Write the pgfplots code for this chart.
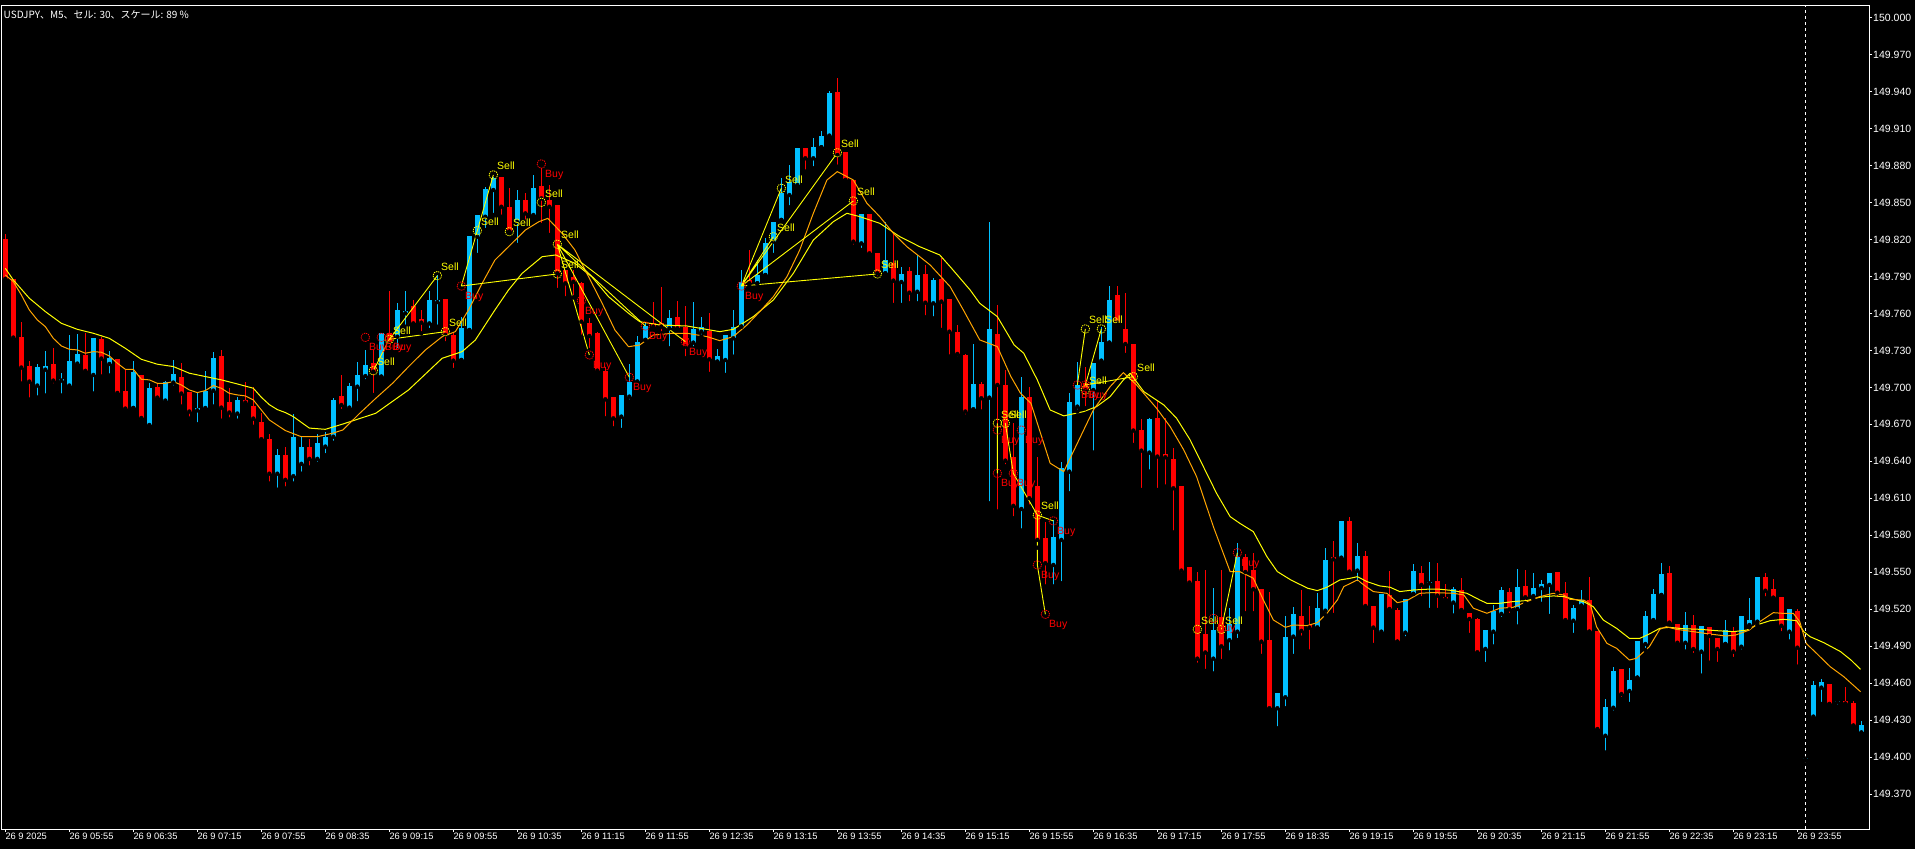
\documentclass[border=0pt]{standalone}
\usepackage{fontspec}
\usepackage{pgfplots}
\usepackage{pgfplotstable}
\pgfplotsset{compat=1.18}
\setmainfont{Liberation Sans}
\newfontfamily\cjk{Noto Sans CJK JP}
\definecolor{bull}{RGB}{0,191,255}
\definecolor{bear}{RGB}{255,0,0}
\definecolor{maslow}{RGB}{255,255,0}
\definecolor{mafast}{RGB}{255,165,0}
\definecolor{sellc}{RGB}{255,255,0}
\definecolor{buyc}{RGB}{255,0,0}

\pgfplotstableread{
i o h l c
4 149.7015 149.7190 149.6917 149.7166
5 149.7144 149.7296 149.6934 149.7174
7 149.7055 149.7117 149.6934 149.7069
8 149.7015 149.7425 149.7006 149.7215
9 149.7193 149.7434 149.7182 149.7271
11 149.7101 149.7401 149.6950 149.7401
13 149.7190 149.7296 149.7096 149.7239
16 149.6833 149.7215 149.6833 149.7128
18 149.6695 149.7036 149.6670 149.6996
20 149.6893 149.7055 149.6877 149.7047
21 149.7039 149.7223 149.6998 149.7109
24 149.6814 149.6966 149.6700 149.6833
25 149.6833 149.7134 149.6804 149.6974
26 149.6974 149.7288 149.6844 149.7242
29 149.6788 149.6925 149.6730 149.6898
34 149.6300 149.6500 149.6170 149.6450
36 149.6280 149.6785 149.6220 149.6600
37 149.6380 149.6600 149.6300 149.6520
39 149.6420 149.6620 149.6380 149.6550
40 149.6520 149.6640 149.6450 149.6600
41 149.6600 149.6911 149.6550 149.6898
43 149.6836 149.7033 149.6809 149.7011
44 149.7006 149.7206 149.6871 149.7101
45 149.7092 149.7303 149.7050 149.7182
47 149.7087 149.7444 149.7087 149.7444
49 149.7411 149.7687 149.7300 149.7628
50 149.7601 149.7782 149.7492 149.7620
53 149.7519 149.7782 149.7465 149.7709
54 149.7692 149.7911 149.7492 149.7709
57 149.7222 149.7574 149.7222 149.7479
58 149.7465 149.8228 149.7465 149.8228
59 149.8222 149.8398 149.8074 149.8398
60 149.8384 149.8628 149.8276 149.8606
61 149.8601 149.8709 149.8398 149.8695
64 149.8344 149.8601 149.8155 149.8519
66 149.8398 149.8722 149.8384 149.8614
77 149.6763 149.6938 149.6655 149.6938
78 149.6925 149.7190 149.6885 149.7047
79 149.7047 149.7417 149.7047 149.7371
80 149.7385 149.7533 149.7385 149.7498
83 149.7479 149.7628 149.7317 149.7560
86 149.7363 149.7690 149.7317 149.7471
87 149.7452 149.7568 149.7412 149.7487
89 149.7209 149.7309 149.7209 149.7255
90 149.7222 149.7425 149.7101 149.7425
91 149.7398 149.7628 149.7249 149.7487
92 149.7493 149.7952 149.7493 149.7858
94 149.7844 149.8033 149.7844 149.7911
95 149.7911 149.8209 149.7911 149.8168
96 149.8182 149.8344 149.8074 149.8344
97 149.8358 149.8695 149.8358 149.8574
98 149.8560 149.8804 149.8460 149.8668
99 149.8641 149.8939 149.8614 149.8939
101 149.8858 149.9020 149.8777 149.8947
102 149.8947 149.9079 149.8947 149.9039
103 149.9042 149.9406 149.9033 149.9385
107 149.8168 149.8406 149.8114 149.8406
110 149.7925 149.8344 149.7925 149.8033
112 149.7855 149.7979 149.7668 149.7920
114 149.7776 149.8074 149.7682 149.7911
116 149.7682 149.7885 149.7560 149.7871
121 149.6823 149.7352 149.6817 149.7028
123 149.6917 149.8339 149.6060 149.7474
127 149.6014 149.7087 149.5839 149.6925
131 149.5560 149.5925 149.5385 149.5790
132 149.5763 149.6398 149.5412 149.6344
133 149.6317 149.6952 149.6141 149.6885
134 149.6844 149.7209 149.6804 149.7020
136 149.6979 149.7201 149.6471 149.7201
137 149.7217 149.7493 149.7210 149.7371
138 149.7363 149.7823 149.7363 149.7709
143 149.6471 149.6750 149.6317 149.6741
151 149.4800 149.5370 149.4680 149.5030
153 149.4950 149.5210 149.4850 149.5080
154 149.5019 149.5736 149.4950 149.5628
159 149.4398 149.4525 149.4235 149.4525
160 149.4487 149.5146 149.4398 149.4979
161 149.4979 149.5217 149.4822 149.5163
164 149.5054 149.5336 149.5046 149.5209
165 149.5189 149.5695 149.5154 149.5600
167 149.5619 149.5917 149.5595 149.5917
169 149.5514 149.5741 149.5411 149.5633
172 149.5019 149.5325 149.4992 149.5325
175 149.5011 149.5281 149.4965 149.5281
176 149.5325 149.5568 149.5325 149.5511
178 149.5411 149.5584 149.5195 149.5422
181 149.5255 149.5379 149.5149 149.5363
185 149.4879 149.5033 149.4757 149.5033
186 149.5019 149.5233 149.4898 149.5187
187 149.5163 149.5379 149.5122 149.5357
189 149.5203 149.5525 149.5060 149.5379
191 149.5308 149.5492 149.5282 149.5371
192 149.5373 149.5438 149.5244 149.5406
193 149.5398 149.5492 149.5146 149.5492
196 149.5108 149.5235 149.4992 149.5211
197 149.5230 149.5357 149.5230 149.5275
200 149.4175 149.4473 149.4038 149.4408
201 149.4402 149.4730 149.4362 149.4700
203 149.4538 149.4724 149.4432 149.4627
204 149.4646 149.4943 149.4646 149.4943
205 149.4919 149.5186 149.4870 149.5146
206 149.5113 149.5365 149.5100 149.5324
207 149.5316 149.5573 149.5316 149.5486
210 149.4929 149.5178 149.4857 149.5073
212 149.4857 149.5065 149.4662 149.5065
215 149.4919 149.5113 149.4919 149.5032
217 149.4897 149.5146 149.4857 149.5146
218 149.5073 149.5294 149.5054 149.5113
219 149.5100 149.5459 149.5073 149.5459
223 149.5019 149.5200 149.4938 149.5200
225 149.3989 149.3995 149.3973 149.3995
226 149.4330 149.4619 149.4321 149.4586
227 149.4565 149.4635 149.4432 149.4611
229 149.4450 149.4459 149.4411 149.4459
232 149.4202 149.4292 149.4189 149.4262
}\bulls

\pgfplotstableread{
i o h l c
0 149.8204 149.8244 149.7850 149.7880
1 149.7880 149.7880 149.7371 149.7404
2 149.7409 149.7531 149.7031 149.7161
3 149.7174 149.7215 149.6901 149.7047
6 149.7190 149.7320 149.7015 149.7055
10 149.7266 149.7439 149.7125 149.7134
12 149.7393 149.7407 149.7088 149.7234
14 149.7228 149.7228 149.6942 149.6955
15 149.6969 149.7144 149.6820 149.6828
17 149.7101 149.7101 149.6720 149.6752
19 149.7004 149.7036 149.6885 149.6917
22 149.7085 149.7198 149.6844 149.6950
23 149.6966 149.6966 149.6747 149.6804
27 149.7255 149.7304 149.6730 149.6836
28 149.6882 149.6998 149.6740 149.6796
30 149.6898 149.7044 149.6852 149.6877
31 149.6850 149.7004 149.6680 149.6747
32 149.6720 149.6796 149.6550 149.6580
33 149.6580 149.6620 149.6220 149.6300
35 149.6450 149.6520 149.6180 149.6250
38 149.6520 149.6580 149.6350 149.6420
42 149.6930 149.7101 149.6809 149.6857
46 149.7195 149.7303 149.6938 149.7128
48 149.7438 149.7782 149.7303 149.7357
51 149.7663 149.7709 149.7492 149.7519
52 149.7552 149.7628 149.7438 149.7525
55 149.7717 149.7717 149.7357 149.7425
56 149.7425 149.7452 149.7141 149.7217
62 149.8709 149.8709 149.8384 149.8465
63 149.8465 149.8614 149.8263 149.8263
65 149.8519 149.8574 149.8344 149.8411
67 149.8633 149.8776 149.8317 149.8533
68 149.8519 149.8641 149.8236 149.8465
69 149.8479 149.8479 149.7790 149.7925
70 149.7952 149.7952 149.7722 149.7844
71 149.7898 149.7950 149.7730 149.7857
72 149.7844 149.7857 149.7411 149.7533
73 149.7525 149.7560 149.7303 149.7417
74 149.7438 149.7452 149.7110 149.7136
75 149.7136 149.7168 149.6749 149.6903
76 149.6919 149.6919 149.6668 149.6749
81 149.7520 149.7695 149.7466 149.7493
82 149.7520 149.7812 149.7439 149.7493
84 149.7568 149.7703 149.7466 149.7479
85 149.7493 149.7660 149.7236 149.7331
88 149.7457 149.7601 149.7109 149.7228
93 149.7871 149.8114 149.7831 149.7844
100 149.8939 149.8939 149.8750 149.8858
104 149.9395 149.9506 149.8790 149.8885
105 149.8912 149.8912 149.8682 149.8682
106 149.8682 149.8682 149.8141 149.8182
108 149.8406 149.8406 149.8060 149.8087
109 149.8093 149.8093 149.7885 149.7925
111 149.8006 149.8250 149.7668 149.7866
113 149.7944 149.7979 149.7682 149.7768
115 149.7920 149.7993 149.7568 149.7687
117 149.7877 149.8047 149.7466 149.7696
118 149.7715 149.7715 149.7250 149.7452
119 149.7452 149.7506 149.7236 149.7271
120 149.7263 149.7271 149.6763 149.6804
122 149.7028 149.7047 149.6804 149.6912
124 149.7433 149.7669 149.5993 149.7020
125 149.7020 149.7142 149.6360 149.6406
126 149.6439 149.6709 149.5939 149.6039
128 149.6925 149.7006 149.6033 149.6101
129 149.6201 149.6439 149.5700 149.5763
130 149.5777 149.5912 149.5385 149.5574
135 149.7033 149.7169 149.6831 149.6979
139 149.7750 149.7823 149.7525 149.7525
140 149.7474 149.7763 149.7263 149.7352
141 149.7352 149.7352 149.6533 149.6650
142 149.6655 149.6741 149.6168 149.6487
144 149.6750 149.6898 149.6168 149.6439
145 149.6460 149.6750 149.6195 149.6433
146 149.6417 149.6506 149.5823 149.6182
147 149.6201 149.6201 149.5479 149.5514
148 149.5541 149.5541 149.5398 149.5417
149 149.5433 149.5500 149.4750 149.4800
150 149.5000 149.5520 149.4700 149.4850
152 149.5136 149.5520 149.4780 149.4900
155 149.5625 149.5650 149.5168 149.5503
156 149.5519 149.5655 149.5168 149.5363
157 149.5363 149.5363 149.4822 149.4938
158 149.4952 149.5344 149.4390 149.4398
162 149.5146 149.5357 149.4970 149.5025
163 149.5071 149.5227 149.4857 149.5052
166 149.5622 149.5755 149.5154 149.5606
168 149.5917 149.5952 149.5498 149.5506
170 149.5633 149.5673 149.5209 149.5227
171 149.5227 149.5227 149.4911 149.5052
173 149.5317 149.5514 149.5173 149.5203
174 149.5195 149.5209 149.4938 149.4938
177 149.5492 149.5552 149.5290 149.5398
179 149.5430 149.5579 149.5195 149.5311
180 149.5303 149.5403 149.5255 149.5284
182 149.5357 149.5452 149.5163 149.5195
183 149.5168 149.5168 149.4992 149.5122
184 149.5122 149.5127 149.4844 149.4852
188 149.5341 149.5373 149.5154 149.5200
190 149.5390 149.5519 149.5249 149.5298
194 149.5503 149.5503 149.5281 149.5335
195 149.5335 149.5422 149.5100 149.5113
198 149.5275 149.5465 149.5019 149.5019
199 149.5024 149.5024 149.4216 149.4229
202 149.4716 149.4716 149.4473 149.4513
208 149.5492 149.5551 149.5081 149.5092
209 149.5081 149.5081 149.4903 149.4929
211 149.5073 149.5154 149.4830 149.4878
213 149.5054 149.5054 149.4767 149.4984
214 149.4970 149.4970 149.4757 149.4878
216 149.5024 149.5054 149.4797 149.4857
220 149.5459 149.5497 149.5289 149.5351
221 149.5362 149.5443 149.5294 149.5294
222 149.5297 149.5297 149.5005 149.5067
224 149.5186 149.5200 149.4735 149.4889
228 149.4594 149.4594 149.4432 149.4432
230 149.4457 149.4573 149.4435 149.4435
231 149.4440 149.4457 149.4257 149.4257
}\bears

\pgfplotstableread{
i p
46 149.7135
48 149.7390
54 149.7906
55 149.7452
59 149.8271
61 149.8723
63 149.8263
67 149.8501
69 149.8161
69 149.7920
96 149.8222
97 149.8615
104 149.8903
106 149.8512
109 149.7920
124 149.6709
125 149.6709
129 149.5965
135 149.7474
137 149.7474
135 149.6979
141 149.7087
149 149.5038
152 149.5038
}\sells

\pgfplotstableread{
i p
45 149.7406
47 149.7406
48 149.7406
57 149.7822
67 149.8812
72 149.7703
73 149.7263
78 149.7082
80 149.7498
85 149.7371
92 149.7822
124 149.6654
127 149.6654
124 149.6303
126 149.6303
131 149.5917
129 149.5560
130 149.5160
134 149.7019
135 149.7019
151 149.5127
154 149.5659
}\buys

\begin{document}
\begin{tikzpicture}
\useasboundingbox (0,0) rectangle (1915bp,849bp);
\fill[black] (0,0) rectangle (1915bp,849bp);
\begin{axis}[
  at={(1bp,20bp)}, anchor=south west,
  width=1868bp, height=823bp, scale only axis,
  xmin=-0.54, xmax=232.96,
  ymin=149.34185, ymax=150.00933,
  axis line style={white, line width=1bp},
  tick align=outside,
  major tick length=3bp,
  major tick style={white, line width=1bp},
  xtick pos=left, ytick pos=right, yticklabel pos=right,
  xtick={0,8,...,224},
  xticklabels={26 9 2025, 26 9 05:55, 26 9 06:35, 26 9 07:15, 26 9 07:55, 26 9 08:35, 26 9 09:15, 26 9 09:55, 26 9 10:35, 26 9 11:15, 26 9 11:55, 26 9 12:35, 26 9 13:15, 26 9 13:55, 26 9 14:35, 26 9 15:15, 26 9 15:55, 26 9 16:35, 26 9 17:15, 26 9 17:55, 26 9 18:35, 26 9 19:15, 26 9 19:55, 26 9 20:35, 26 9 21:15, 26 9 21:55, 26 9 22:35, 26 9 23:15, 26 9 23:55},
  ytick={149.37,149.40,149.43,149.46,149.49,149.52,149.55,149.58,149.61,149.64,149.67,149.70,149.73,149.76,149.79,149.82,149.85,149.88,149.91,149.94,149.97,150.00},
  yticklabels={149.370,149.400,149.430,149.460,149.490,149.520,149.550,149.580,149.610,149.640,149.670,149.700,149.730,149.760,149.790,149.820,149.850,149.880,149.910,149.940,149.970,150.000},
  xticklabel style={text=white, font=\fontsize{9.3bp}{11bp}\selectfont, anchor=north west, inner sep=0pt, yshift=-1bp},
  yticklabel style={text=white, font=\fontsize{10.5bp}{12bp}\selectfont, anchor=west, inner sep=0pt, xshift=1bp},
  every axis plot/.append style={line join=round},
]
% wicks
\addplot[only marks, mark=none, forget plot, error bars/.cd, y dir=plus, y explicit, error mark=none, error bar style={draw=bull, line width=1bp}]
  table[x=i, y=l, y error plus expr=\thisrow{h}-\thisrow{l}] {\bulls};
\addplot[only marks, mark=none, forget plot, error bars/.cd, y dir=plus, y explicit, error mark=none, error bar style={draw=bear, line width=1bp}]
  table[x=i, y=l, y error plus expr=\thisrow{h}-\thisrow{l}] {\bears};
% bodies
\addplot[only marks, mark=none, forget plot, error bars/.cd, y dir=plus, y explicit, error mark=none, error bar style={draw=bull, line width=5bp}]
  table[x=i, y=o, y error plus expr=\thisrow{c}-\thisrow{o}] {\bulls};
\addplot[only marks, mark=none, forget plot, error bars/.cd, y dir=plus, y explicit, error mark=none, error bar style={draw=bear, line width=5bp}]
  table[x=i, y=c, y error plus expr=\thisrow{o}-\thisrow{c}] {\bears};
% slow MA
\addplot[maslow, line width=1bp, mark=none] coordinates {
(0,149.7966)(1,149.7871)(3,149.7723)(5,149.7615)(7,149.7520)(9,149.7471)(11,149.7439)(13,149.7398)(15,149.7317)(17,149.7228)(19,149.7188)(21,149.7169)(23,149.7115)(25,149.7088)(27,149.7061)(29,149.7028)(31,149.6993)(32,149.6920)(33,149.6860)(34,149.6820)(35,149.6796)(36,149.6763)(38,149.6670)(40,149.6660)(42.2,149.6703)(46.3,149.6790)(50.4,149.6979)(54.6,149.7236)(57.1,149.7290)(58.75,149.7384)(61.2,149.7628)(62.9,149.7790)(64.6,149.7925)(67.1,149.8060)(68.8,149.8074)(71.2,149.8006)(73.3,149.7898)(75.4,149.7736)(77.9,149.7601)(79.3,149.7533)(81.8,149.7506)(85.2,149.7498)(89.3,149.7452)(91.0,149.7471)(93.5,149.7574)(96,149.7709)(98.5,149.7925)(101,149.8195)(103.5,149.8344)(105.2,149.8412)(106.8,149.8385)(109.3,149.8331)(111.8,149.8223)(114.3,149.8141)(116.8,149.8074)(118.1,149.7979)(120.6,149.7790)(121.8,149.7682)(124,149.7574)(126.1,149.7344)(127.3,149.7277)(129,149.7060)(130.6,149.6817)(132.3,149.6769)(134.8,149.6804)(136.4,149.6844)(138.1,149.6925)(139.75,149.7060)(140.6,149.7115)(142.3,149.6966)(144.8,149.6858)(146.4,149.6750)(148.1,149.6574)(149.75,149.6358)(151.4,149.6141)(153.1,149.5952)(154.3,149.5898)(156,149.5830)(157.7,149.5627)(159,149.5506)(160.7,149.5438)(162.8,149.5371)(164,149.5352)(165.2,149.5379)(166.8,149.5438)(168.1,149.5452)(169,149.5465)(170.2,149.5425)(171.8,149.5390)(173.1,149.5379)(174.3,149.5344)(176,149.5357)(177.7,149.5363)(179.3,149.5363)(181,149.5352)(182.7,149.5330)(184.3,149.5276)(185.2,149.5249)(186.8,149.5249)(188.5,149.5263)(190.2,149.5271)(191.8,149.5298)(193.5,149.5309)(194.8,149.5303)(197.3,149.5262)(198.5,149.5221)(199.75,149.5113)(201.4,149.5046)(203,149.4965)(204.3,149.4965)(205.5,149.5000)(206.8,149.5046)(208,149.5054)(209.7,149.5043)(211.8,149.5038)(213.9,149.5027)(216,149.5019)(217.7,149.5032)(218.9,149.5073)(220.6,149.5108)(222.3,149.5119)(223.9,149.5108)(224.8,149.5019)(225.6,149.4978)(227.3,149.4930)(229.4,149.4857)(230.7,149.4789)(231.9,149.4713)
};
% fast MA
\addplot[mafast, line width=1bp, mark=none] coordinates {
(0,149.7912)(1,149.7858)(2,149.7750)(3,149.7628)(4,149.7547)(5,149.7493)(6,149.7398)(7,149.7336)(8,149.7309)(9,149.7304)(10,149.7277)(11,149.7290)(12,149.7285)(13,149.7255)(14,149.7196)(15,149.7147)(16,149.7147)(17,149.7066)(18,149.7061)(19,149.7033)(20,149.7033)(21,149.7047)(22,149.7020)(23,149.6979)(24,149.6958)(25,149.6974)(26,149.7015)(27,149.6993)(28,149.6952)(29,149.6939)(30,149.6931)(31,149.6898)(32,149.6817)(33,149.6736)(35,149.6650)(37,149.6600)(39,149.6600)(41,149.6630)(42.2,149.6655)(44.3,149.6790)(46.3,149.6911)(48.4,149.7033)(50.4,149.7168)(52.5,149.7303)(54.6,149.7411)(56.25,149.7452)(57.9,149.7628)(59.6,149.7844)(61.2,149.8033)(62.9,149.8141)(65,149.8276)(66.7,149.8344)(67.8,149.8371)(69.6,149.8249)(71.2,149.8114)(72.9,149.7898)(74.6,149.7682)(76.2,149.7465)(77.9,149.7330)(79.3,149.7344)(81,149.7425)(83.5,149.7439)(85.2,149.7439)(87.7,149.7412)(89.3,149.7379)(91,149.7412)(92.7,149.7506)(94.3,149.7614)(96,149.7736)(97.7,149.7898)(99.3,149.8114)(101,149.8412)(102.7,149.8682)(104,149.8750)(106,149.8682)(107.7,149.8493)(109.3,149.8385)(111,149.8250)(112.7,149.8141)(114.3,149.8060)(115.6,149.7993)(118.1,149.7817)(119.75,149.7628)(121.8,149.7385)(124,149.7331)(125.7,149.7087)(126.9,149.6952)(128.2,149.6871)(129.4,149.6628)(130.6,149.6385)(132.3,149.6317)(134,149.6547)(136,149.6817)(138.1,149.7006)(139.75,149.7120)(141.4,149.7020)(143.9,149.6831)(145.6,149.6682)(147.3,149.6493)(148.9,149.6277)(151,149.5871)(153.1,149.5506)(154.3,149.5506)(156,149.5452)(157.25,149.5276)(158.5,149.5114)(160,149.5054)(161,149.5073)(162.7,149.5068)(164,149.5092)(165.2,149.5168)(166.5,149.5276)(167.3,149.5384)(169,149.5438)(170.2,149.5379)(171,149.5344)(172.7,149.5330)(174,149.5254)(175.2,149.5271)(176.8,149.5330)(178.5,149.5336)(181,149.5330)(182.3,149.5317)(183.5,149.5209)(185.2,149.5168)(186.8,149.5209)(188.5,149.5217)(190.2,149.5263)(191.8,149.5303)(193.5,149.5330)(194.8,149.5316)(195.6,149.5281)(197.3,149.5275)(198.1,149.5243)(198.9,149.5059)(200.2,149.4924)(201.4,149.4884)(203,149.4789)(203.9,149.4803)(205.5,149.4897)(206.8,149.5038)(207.6,149.5059)(208.9,149.5038)(211,149.5019)(213,149.5000)(215.1,149.4984)(216.3,149.4992)(218,149.5032)(219.3,149.5100)(221,149.5173)(222.3,149.5167)(223.5,149.5167)(224.3,149.5100)(225.1,149.4924)(226.4,149.4843)(228.1,149.4735)(229.8,149.4654)(231.9,149.4532)
};
% signal connection lines
\addplot[sellc, line width=0.9bp, mark=none, unbounded coords=jump] coordinates {
(46,149.7135)(48,149.7390)(48,nan)
(48,149.7390)(55,149.7452)(55,nan)
(48,149.7390)(54,149.7906)(54,nan)
(57,149.7822)(61,149.8723)(61,nan)
(57,149.7822)(69,149.7920)(69,nan)
(69,149.8161)(73,149.7263)(73,nan)
(69,149.8161)(78,149.7082)(78,nan)
(69,149.8161)(80,149.7498)(80,nan)
(69,149.8161)(85,149.7371)(85,nan)
(92,149.7822)(96,149.8222)(96,nan)
(92,149.7822)(97,149.8615)(97,nan)
(92,149.7822)(104,149.8903)(104,nan)
(92,149.7822)(106,149.8512)(106,nan)
(92,149.7822)(109,149.7920)(109,nan)
(124,149.6709)(124,149.6303)(124,nan)
(125,149.6709)(126,149.6303)(129,149.5965)(129,nan)
(129,149.5965)(129,149.5560)(130,149.5160)(130,nan)
(129,149.5965)(131,149.5917)(131,nan)
(135,149.7474)(134,149.7019)(134,nan)
(137,149.7474)(135,149.7019)(141,149.7087)(141,nan)
(152,149.5038)(154,149.5659)
};
% day separator
\addplot[white, line width=1bp, dash pattern=on 3bp off 3bp, mark=none] coordinates {(224.96,149.34185)(224.96,150.00933)};
% sell markers
\addplot[only marks, mark=o, mark size=4.3bp, sellc,
  mark options={line width=0.8bp, dash pattern=on 1.3bp off 0.9bp},
  nodes near coords={Sell},
  every node near coord/.append style={anchor=west, xshift=3.5bp, yshift=9bp, inner sep=0pt, text=sellc, font=\fontsize{10.5bp}{12bp}\selectfont}]
  table[x=i, y=p] {\sells};
% buy markers
\addplot[only marks, mark=o, mark size=4.3bp, buyc,
  mark options={line width=0.8bp, dash pattern=on 1.3bp off 0.9bp},
  nodes near coords={Buy},
  every node near coord/.append style={anchor=west, xshift=3.5bp, yshift=-11bp, inner sep=0pt, text=buyc, font=\fontsize{10.5bp}{12bp}\selectfont}]
  table[x=i, y=p] {\buys};
\end{axis}
\node[anchor=west, text=white, inner sep=0pt, font=\cjk\fontsize{10bp}{12bp}\selectfont] at (3.5bp,834bp) {USDJPY、M5、セル: 30、スケール: 89 \%};
\end{tikzpicture}
\end{document}
